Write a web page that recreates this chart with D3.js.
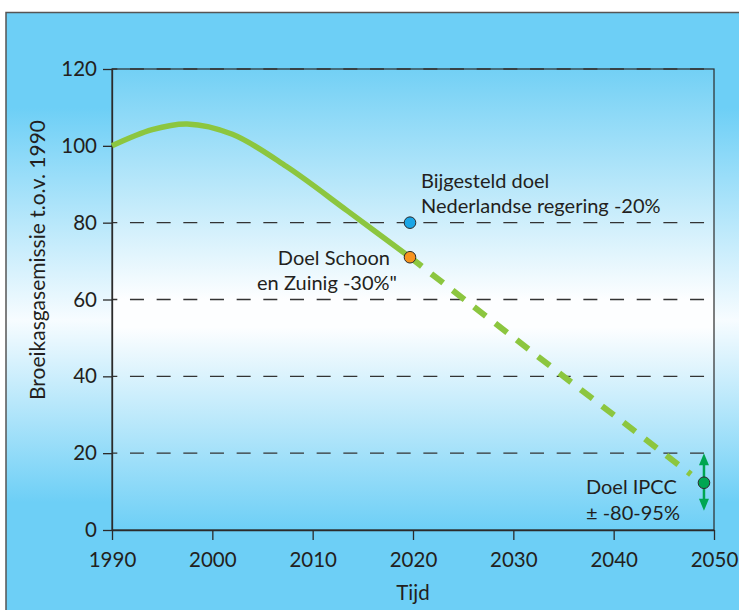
<!DOCTYPE html>
<html><head><meta charset="utf-8">
<script src="https://cdn.jsdelivr.net/npm/d3@7"></script>
<style>
html,body{margin:0;padding:0;background:#fff;}
svg text{font-family:Lato,"Open Sans",sans-serif;fill:#231f20;}
</style></head>
<body>
<svg id="c" width="739" height="610"></svg>
<script>
// ---- data ----
const xTicks = [1990, 2000, 2010, 2020, 2030, 2040, 2050];
const yTicks = [0, 20, 40, 60, 80, 100, 120];
const gridValues = [20, 40, 60, 80, 120];
const histYears = [1990, 1994, 1997.5, 2002, 2007.4, 2013.5, 2019.7];
const histValues = [100, 104.2, 105.7, 103, 94.6, 83, 71];
const projYears = [2019.7, 2035, 2047.7];
const projValues = [71, 40, 14.5];
const targetNames = ["Bijgesteld doel Nederlandse regering -20%", "Doel Schoon en Zuinig -30%\"", "Doel IPCC ± -80-95%"];
const targetYears = [2019.7, 2019.7, 2049];
const targetValues = [80, 71, 12.3];
const targetColors = ["#1ba6e6", "#f7931e", "#00a651"];
const ipccRange = [5, 20];

const svg = d3.select("#c");
const W = 739, H = 610;
const m = {left:112, right:714, top:69, bottom:530};
const x = d3.scaleLinear().domain([1990, 2050]).range([m.left, m.right]);
const y = d3.scaleLinear().domain([0, 120]).range([m.bottom, m.top]);

const defs = svg.append("defs");
const g1 = defs.append("linearGradient").attr("id","outer").attr("gradientUnits","userSpaceOnUse")
  .attr("x1",0).attr("x2",0).attr("y1",12).attr("y2",610);
[[0,"#6dcff6"],[0.16,"#6dcff6"],[0.515,"#f7fcff"],[0.82,"#6dcff6"],[1,"#6dcff6"]]
  .forEach(s=>g1.append("stop").attr("offset",s[0]).attr("stop-color",s[1]));
const g2 = defs.append("linearGradient").attr("id","inner").attr("gradientUnits","userSpaceOnUse")
  .attr("x1",0).attr("x2",0).attr("y1",m.top).attr("y2",m.bottom);
[[0,"#72d0f5"],[0.5,"#fdfeff"],[0.56,"#fdfeff"],[1,"#6dcff6"]]
  .forEach(s=>g2.append("stop").attr("offset",s[0]).attr("stop-color",s[1]));

// outer frame
svg.append("rect").attr("x",6).attr("y",12.5).attr("width",W).attr("height",H)
  .attr("fill","url(#outer)").attr("stroke","#555").attr("stroke-width",1.5);
// plot area
svg.append("rect").attr("x",m.left).attr("y",m.top).attr("width",m.right-m.left).attr("height",m.bottom-m.top)
  .attr("fill","url(#inner)").attr("stroke","#2b2b2b").attr("stroke-width",1.2);

// grid
svg.append("g").selectAll("line").data(gridValues).join("line")
  .attr("x1",m.left).attr("x2",m.right).attr("y1",d=>y(d)).attr("y2",d=>y(d))
  .attr("stroke","#333").attr("stroke-width",1.3)
  .attr("stroke-dasharray","14,12.67").attr("stroke-dashoffset",8.7);

// axes
const ax = svg.append("g").attr("transform",`translate(0,${m.bottom})`)
  .call(d3.axisBottom(x).tickValues(xTicks).tickFormat(d3.format("d")).tickSize(10).tickSizeOuter(0).tickPadding(12));
const ay = svg.append("g").attr("transform",`translate(${m.left},0)`)
  .call(d3.axisLeft(y).tickValues(yTicks).tickSize(9).tickSizeOuter(0).tickPadding(6));
[ax, ay].forEach(a=>{
  a.select(".domain").attr("stroke","#2b2b2b").attr("stroke-width",1.3);
  a.selectAll(".tick line").attr("stroke","#2b2b2b").attr("stroke-width",1.3);
  a.selectAll("text").attr("font-size",20.5).attr("font-family","Lato").attr("fill","#231f20");
});

// axis titles
svg.append("text").attr("x",(m.left+m.right)/2).attr("y",600).attr("text-anchor","middle")
  .attr("font-size",20.5).text("Tijd");
svg.append("text").attr("transform","translate(45,260) rotate(-90)").attr("text-anchor","middle")
  .attr("font-size",21).text("Broeikasgasemissie t.o.v. 1990");

// lines
svg.append("path").datum(histYears.map((yr,i)=>[yr,histValues[i]]))
  .attr("d",d3.line().x(d=>x(d[0])).y(d=>y(d[1])).curve(d3.curveCatmullRom.alpha(0.5))).attr("fill","none")
  .attr("stroke","#8cc63f").attr("stroke-width",5.5).attr("stroke-linecap","butt");
svg.append("path").datum(projYears.map((yr,i)=>[yr,projValues[i]]))
  .attr("d",d3.line().x(d=>x(d[0])).y(d=>y(d[1]))).attr("fill","none")
  .attr("stroke","#8cc63f").attr("stroke-width",6).attr("stroke-dasharray","15,12");

// IPCC range arrow
const ax0 = x(targetYears[2]);
svg.append("line").attr("x1",ax0).attr("x2",ax0).attr("y1",y(ipccRange[1])+8).attr("y2",y(ipccRange[0])-8)
  .attr("stroke",targetColors[2]).attr("stroke-width",2.5);
ipccRange.forEach((v,i)=>{
  const tip = y(v), dir = i===0 ? -1 : 1;
  const base = tip + dir*12;
  svg.append("path").attr("d",`M${ax0},${tip}L${ax0-5},${base}L${ax0+5},${base}Z`).attr("fill",targetColors[2]);
});

// target points
svg.append("g").selectAll("circle").data(targetValues).join("circle")
  .attr("cx",(d,i)=>x(targetYears[i])).attr("cy",d=>y(d)).attr("r",5.8)
  .attr("fill",(d,i)=>targetColors[i]).attr("stroke","#2b2b2b").attr("stroke-width",1);

// annotations
const fs = 20;
function label(tx, ty, anchor, s){
  svg.append("text").attr("text-anchor",anchor).attr("font-size",fs).attr("x",tx).attr("y",ty).text(s);
}
label(x(targetYears[0])+11, y(targetValues[0])-34.5, "start", "Bijgesteld doel");
label(x(targetYears[0])+11, y(targetValues[0])-10, "start", "Nederlandse regering -20%");
label(x(targetYears[1])-20, y(targetValues[1])+8, "end", "Doel Schoon");
label(x(targetYears[1])-13, y(targetValues[1])+32.5, "end", "en Zuinig -30%\"");
label(x(targetYears[2])-118, y(targetValues[2])+11, "start", "Doel IPCC");
label(x(targetYears[2])-118, y(targetValues[2])+37, "start", "± -80-95%");
</script>
</body></html>
